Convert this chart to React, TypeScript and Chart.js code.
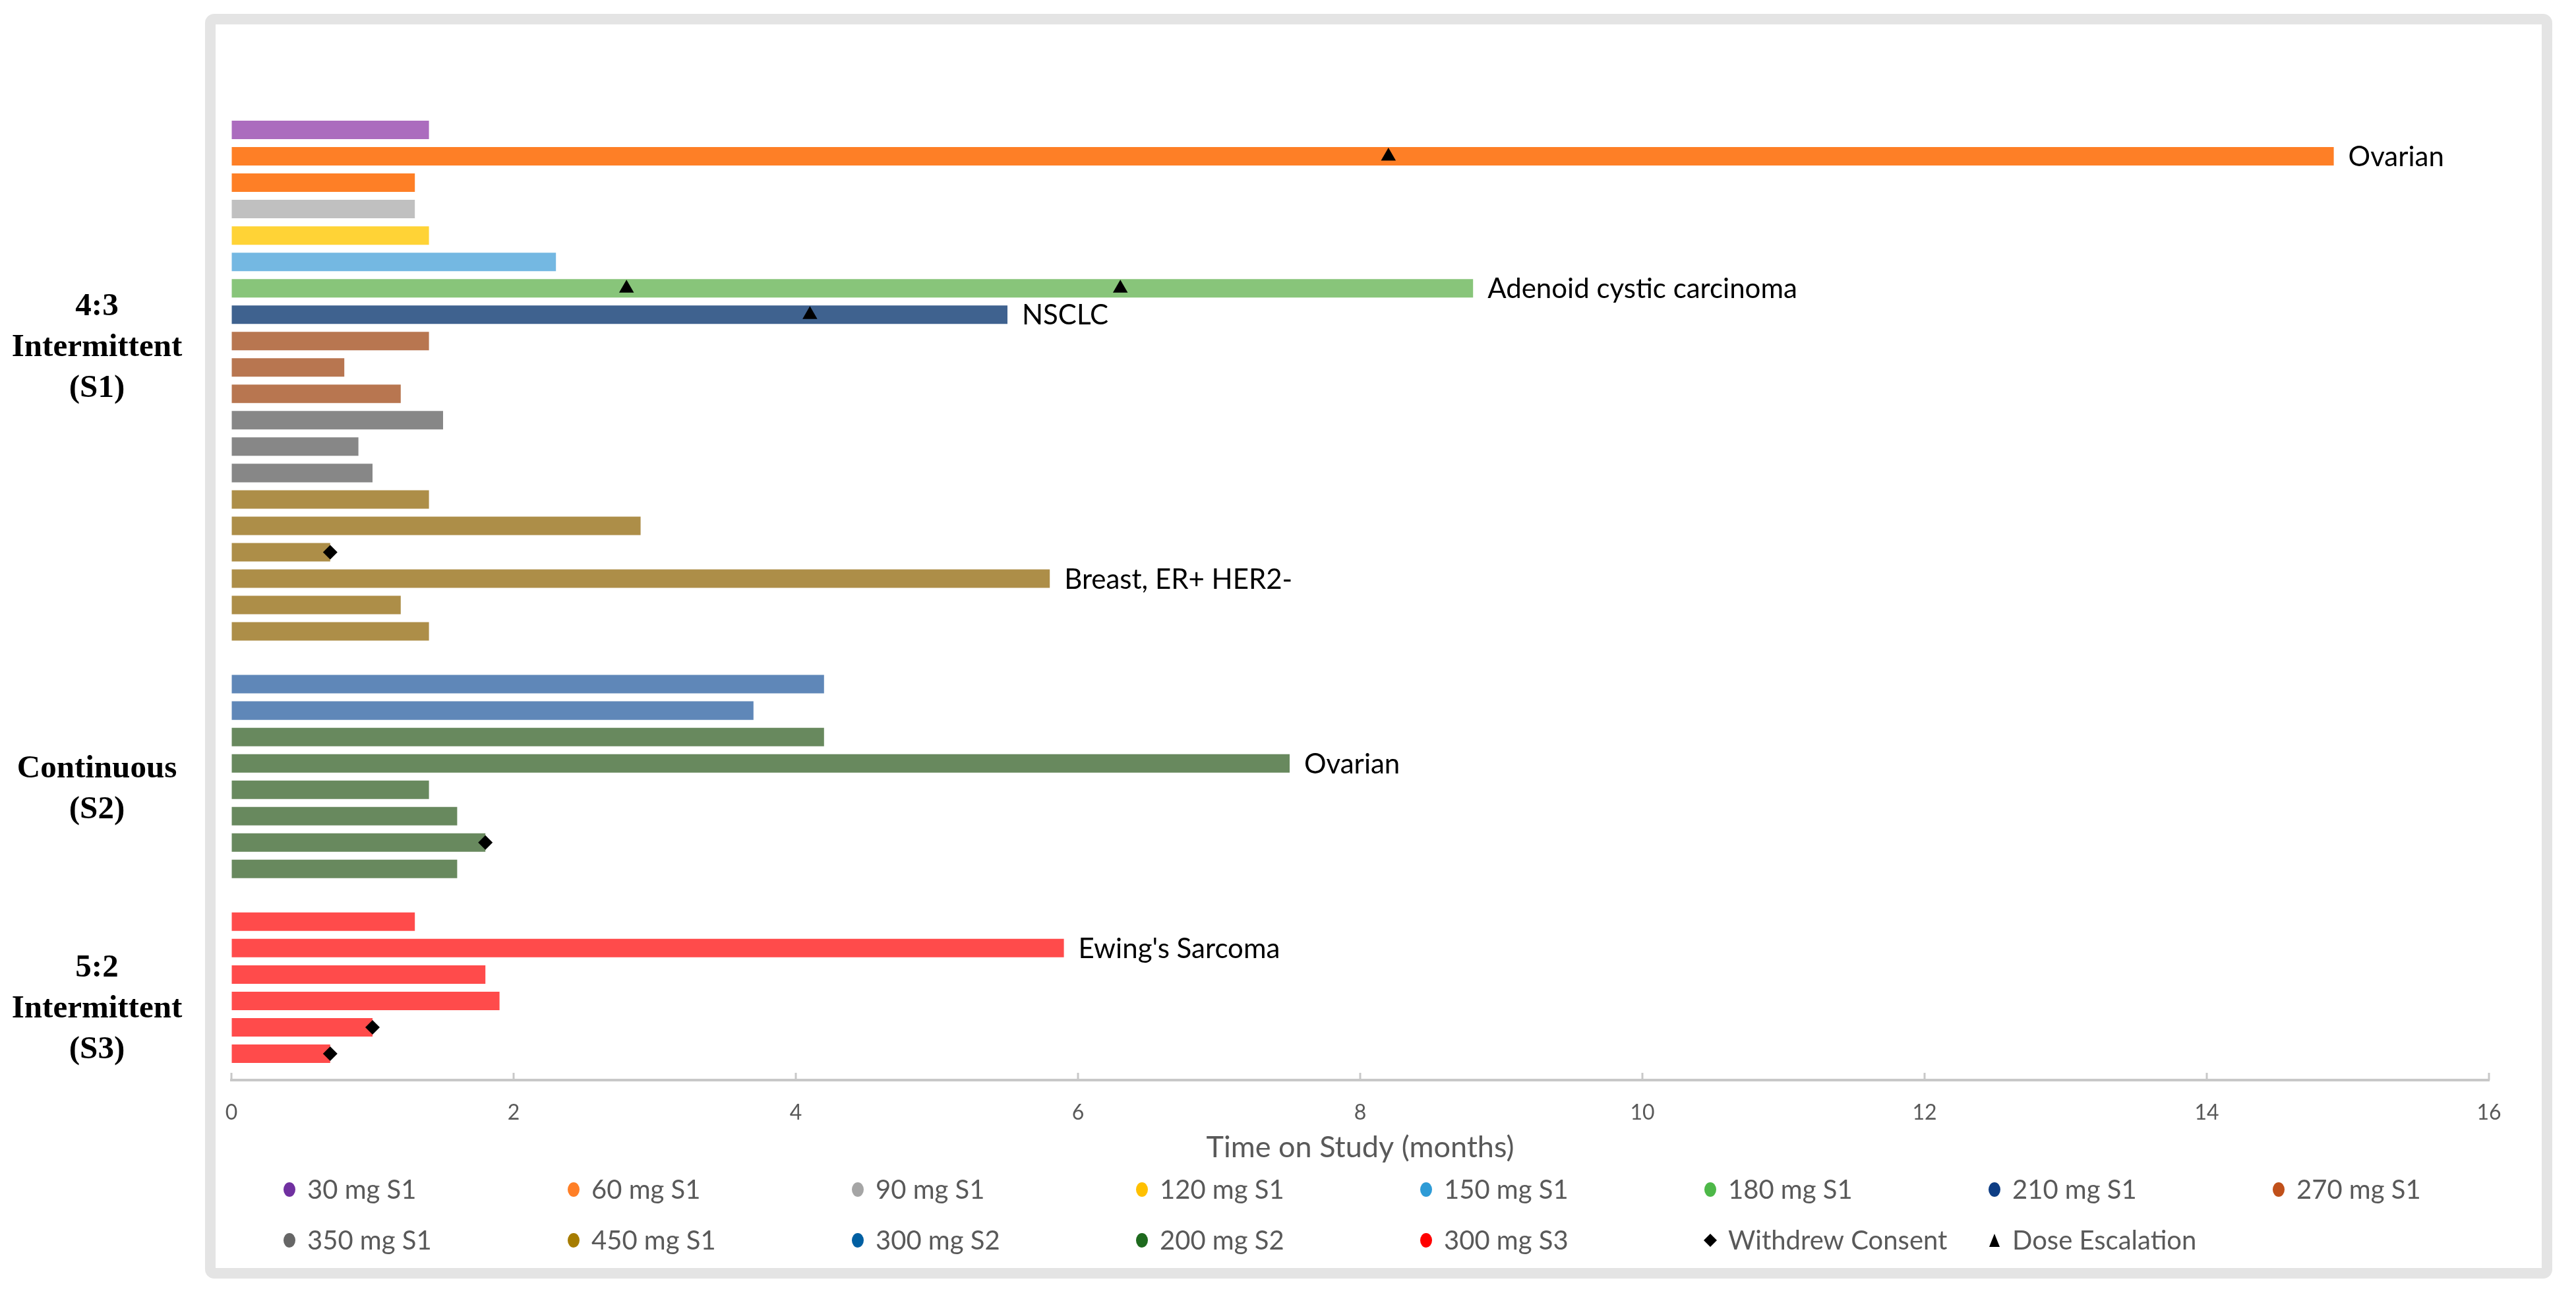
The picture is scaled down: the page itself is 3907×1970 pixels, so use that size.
import React, { useEffect, useRef } from "react";
import { Chart, registerables } from "chart.js";

Chart.register(...registerables);

const CANVAS_W = 3907;
const CANVAS_H = 1970;

// Dose levels (legend order), bar fill colours and legend key colours
const doseNames = [
  "30 mg S1", "60 mg S1", "90 mg S1", "120 mg S1", "150 mg S1", "180 mg S1", "210 mg S1", "270 mg S1",
  "350 mg S1", "450 mg S1", "300 mg S2", "200 mg S2", "300 mg S3",
];
const doseBarColors = [
  "#AB6CBE", "#FE7F26", "#C0C0C0", "#FFD336", "#74B8E2", "#88C57A", "#3F628F", "#B87650",
  "#878787", "#AD8E48", "#5F87B8", "#68895E", "#FF4B4B",
];
const doseKeyColors = [
  "#7030A0", "#FF7F27", "#A5A5A5", "#FFC000", "#2E9BD6", "#4DB848", "#0D3D84", "#C0501A",
  "#666666", "#A67C00", "#005FA2", "#1E6A1E", "#FF0000",
];
const markerNames = ["Withdrew Consent", "Dose Escalation"];

// Schedule group titles
const groupTitles = [
  ["4:3", "Intermittent", "(S1)"],
  ["Continuous", "(S2)"],
  ["5:2", "Intermittent", "(S3)"],
];

// S1: 4:3 intermittent
const s1Doses = [
  "30 mg S1", "60 mg S1", "60 mg S1", "90 mg S1", "120 mg S1", "150 mg S1", "180 mg S1", "210 mg S1",
  "270 mg S1", "270 mg S1", "270 mg S1", "350 mg S1", "350 mg S1", "350 mg S1",
  "450 mg S1", "450 mg S1", "450 mg S1", "450 mg S1", "450 mg S1", "450 mg S1",
];
const s1Months = [1.4, 14.9, 1.3, 1.3, 1.4, 2.3, 8.8, 5.5, 1.4, 0.8, 1.2, 1.5, 0.9, 1.0, 1.4, 2.9, 0.7, 5.8, 1.2, 1.4];
const s1Tumors = [
  "", "Ovarian", "", "", "", "", "Adenoid cystic carcinoma", "NSCLC", "", "", "", "", "", "",
  "", "", "", "Breast, ER+ HER2-", "", "",
];
const s1Withdrew = [0, 0, 0, 0, 0, 0, 0, 0, 0, 0, 0, 0, 0, 0, 0, 0, 1, 0, 0, 0];

// S2: continuous
const s2Doses = ["300 mg S2", "300 mg S2", "200 mg S2", "200 mg S2", "200 mg S2", "200 mg S2", "200 mg S2", "200 mg S2"];
const s2Months = [4.2, 3.7, 4.2, 7.5, 1.4, 1.6, 1.8, 1.6];
const s2Tumors = ["", "", "", "Ovarian", "", "", "", ""];
const s2Withdrew = [0, 0, 0, 0, 0, 0, 1, 0];

// S3: 5:2 intermittent
const s3Doses = ["300 mg S3", "300 mg S3", "300 mg S3", "300 mg S3", "300 mg S3", "300 mg S3"];
const s3Months = [1.3, 5.9, 1.8, 1.9, 1.0, 0.7];
const s3Tumors = ["", "Ewing's Sarcoma", "", "", "", ""];
const s3Withdrew = [0, 0, 0, 0, 1, 1];

// Dose escalations (S1 patient index, month)
const escalationPatient = [1, 6, 6, 7];
const escalationMonths = [8.2, 2.8, 6.3, 4.1];

// Tick values of the time axis
const xTickStep = 2;
const xMin = 0;
const xMax = 16;

type Row = { dose: string | null; months: number | null; tumor: string; withdrew: boolean };

const groups = [
  { doses: s1Doses, months: s1Months, tumors: s1Tumors, withdrew: s1Withdrew },
  { doses: s2Doses, months: s2Months, tumors: s2Tumors, withdrew: s2Withdrew },
  { doses: s3Doses, months: s3Months, tumors: s3Tumors, withdrew: s3Withdrew },
];

const blankRow: Row = { dose: null, months: null, tumor: "", withdrew: false };
const rows: Row[] = [blankRow];
const groupStart: number[] = [];
groups.forEach((g) => {
  groupStart.push(rows.length);
  g.months.forEach((m, i) => {
    rows.push({ dose: g.doses[i], months: m, tumor: g.tumors[i], withdrew: !!g.withdrew[i] });
  });
  rows.push(blankRow);
});

// unique category keys (never displayed)
const rowLabels = rows.map((r, i) => `row${i}`);
const rowMonths = rows.map((r) => r.months);
const rowColors = rows.map((r) => (r.dose ? doseBarColors[doseNames.indexOf(r.dose)] : "rgba(0,0,0,0)"));
const withdrawPoints = rows
  .map((r, i) => (r.withdrew ? { x: r.months as number, y: rowLabels[i] } : null))
  .filter((p) => p !== null);
const escalationPoints = escalationPatient.map((p, i) => ({
  x: escalationMonths[i],
  y: rowLabels[groupStart[0] + p],
}));

// group label anchors (in row units, relative to group start)
const groupTitleAnchor = [8.26, 4.0, 3.3];

const SANS = "Lato, 'Open Sans', sans-serif";
const SERIF = "'Liberation Serif', 'Times New Roman', serif";

function drawDiamond(ctx: CanvasRenderingContext2D, x: number, y: number, r: number) {
  ctx.beginPath();
  ctx.moveTo(x, y - r);
  ctx.lineTo(x + r, y);
  ctx.lineTo(x, y + r);
  ctx.lineTo(x - r, y);
  ctx.closePath();
  ctx.fill();
}
function drawTriangle(ctx: CanvasRenderingContext2D, x: number, y: number, w: number, h: number) {
  ctx.beginPath();
  ctx.moveTo(x, y - h / 2);
  ctx.lineTo(x + w / 2, y + h / 2);
  ctx.lineTo(x - w / 2, y + h / 2);
  ctx.closePath();
  ctx.fill();
}

const overlayPlugin = {
  id: "overlay",
  beforeDraw(chart: any) {
    const ctx: CanvasRenderingContext2D = chart.ctx;
    ctx.save();
    ctx.fillStyle = "#FFFFFF";
    ctx.fillRect(0, 0, chart.width, chart.height);
    ctx.strokeStyle = "#E4E4E4";
    ctx.lineWidth = 16;
    ctx.beginPath();
    (ctx as any).roundRect(319, 29, 3544, 1902, 6);
    ctx.stroke();
    ctx.restore();
  },
  afterDraw(chart: any) {
    const ctx: CanvasRenderingContext2D = chart.ctx;
    const xs = chart.scales.x;
    const ys = chart.scales.y;
    const area = chart.chartArea;
    ctx.save();

    // inward tick marks on the time axis
    ctx.strokeStyle = "#C8C8C8";
    ctx.lineWidth = 3;
    for (let v = xMin; v <= xMax; v += xTickStep) {
      const px = xs.getPixelForValue(v);
      ctx.beginPath();
      ctx.moveTo(px, area.bottom);
      ctx.lineTo(px, area.bottom - 11);
      ctx.stroke();
    }

    // tumour annotations at bar ends
    const barMeta = chart.getDatasetMeta(2);
    ctx.fillStyle = "#000000";
    ctx.font = `42px ${SANS}`;
    ctx.textAlign = "left";
    ctx.textBaseline = "alphabetic";
    rows.forEach((r, i) => {
      if (!r.tumor) return;
      const el = barMeta.data[i];
      if (!el) return;
      ctx.fillText(r.tumor, el.x + 22, el.y + 42 * 0.358);
    });

    // schedule group titles on the left
    ctx.font = `bold 49px ${SERIF}`;
    ctx.textAlign = "center";
    ctx.textBaseline = "middle";
    groupTitles.forEach((lines, gi) => {
      const cy = ys.getPixelForValue(groupStart[gi] + groupTitleAnchor[gi]);
      lines.forEach((t, li) => {
        ctx.fillText(t, 147, cy + (li - (lines.length - 1) / 2) * 62);
      });
    });

    // legend
    const items = [
      ...doseNames.map((n, i) => ({ name: n, color: doseKeyColors[i], kind: "dot" })),
      { name: markerNames[0], color: "#000000", kind: "diamond" },
      { name: markerNames[1], color: "#000000", kind: "triangle" },
    ];
    const perRow = 8;
    const colStart = 439;
    const colStep = 431;
    const rowY = [1804, 1881];
    ctx.font = `40px ${SANS}`;
    ctx.textAlign = "left";
    ctx.textBaseline = "alphabetic";
    items.forEach((it, i) => {
      const cx = colStart + (i % perRow) * colStep;
      const cy = rowY[Math.floor(i / perRow)];
      ctx.fillStyle = it.color;
      if (it.kind === "dot") {
        ctx.beginPath();
        ctx.ellipse(cx, cy, 9, 11, 0, 0, Math.PI * 2);
        ctx.fill();
      } else if (it.kind === "diamond") {
        drawDiamond(ctx, cx, cy, 10);
      } else {
        drawTriangle(ctx, cx, cy, 16, 20);
      }
      ctx.fillStyle = "#595959";
      ctx.fillText(it.name, cx + 27, cy + 40 * 0.358);
    });

    ctx.restore();
  },
};

export default function App() {
  const canvasRef = useRef<HTMLCanvasElement | null>(null);

  useEffect(() => {
    document.body.style.margin = "0";
    document.body.style.overflow = "hidden";
    const canvas = canvasRef.current;
    if (!canvas) return;
    const chart = new Chart(canvas, {
      type: "bar",
      data: {
        labels: rowLabels,
        datasets: [
          {
            type: "line",
            label: markerNames[1],
            data: escalationPoints as any,
            showLine: false,
            pointStyle: "triangle",
            pointRadius: 13,
            pointBackgroundColor: "#000000",
            pointBorderWidth: 0,
            indexAxis: "y",
            order: 0,
          } as any,
          {
            type: "line",
            label: markerNames[0],
            data: withdrawPoints as any,
            showLine: false,
            pointStyle: "rectRot",
            pointRadius: 11,
            pointBackgroundColor: "#000000",
            pointBorderWidth: 0,
            indexAxis: "y",
            order: 0,
          } as any,
          {
            type: "bar",
            label: "Time on Study",
            data: rowMonths as any,
            backgroundColor: rowColors,
            borderWidth: 0,
            categoryPercentage: 0.7,
            barPercentage: 1,
            order: 1,
          } as any,
        ],
      },
      options: {
        indexAxis: "y",
        responsive: false,
        devicePixelRatio: 1,
        animation: false,
        events: [],
        layout: { padding: { left: 351, right: 132, top: 157, bottom: 132 } },
        plugins: { legend: { display: false }, tooltip: { enabled: false } },
        scales: {
          x: {
            type: "linear",
            min: xMin,
            max: xMax,
            ticks: {
              stepSize: xTickStep,
              color: "#595959",
              font: { family: SANS, size: 32 },
              padding: 30,
              maxRotation: 0,
            },
            grid: { display: true, drawOnChartArea: false, drawTicks: false },
            border: { display: true, color: "#C8C8C8", width: 4 },
            title: {
              display: true,
              text: "Time on Study (months)",
              color: "#595959",
              font: { family: SANS, size: 45 },
              padding: { top: 0, bottom: 71 },
            },
            afterFit: (scale: any) => {
              scale.height = 200;
            },
          },
          y: { type: "category", display: false, offset: false },
        },
      } as any,
      plugins: [overlayPlugin],
    });
    const fonts: any = (document as any).fonts;
    if (fonts && fonts.ready) fonts.ready.then(() => chart.draw());
    return () => chart.destroy();
  }, []);

  return (
    <div style={{ position: "absolute", left: 0, top: 0, width: CANVAS_W, height: CANVAS_H, overflow: "hidden" }}>
      <canvas ref={canvasRef} width={CANVAS_W} height={CANVAS_H} style={{ width: CANVAS_W, height: CANVAS_H, display: "block" }} />
    </div>
  );
}
